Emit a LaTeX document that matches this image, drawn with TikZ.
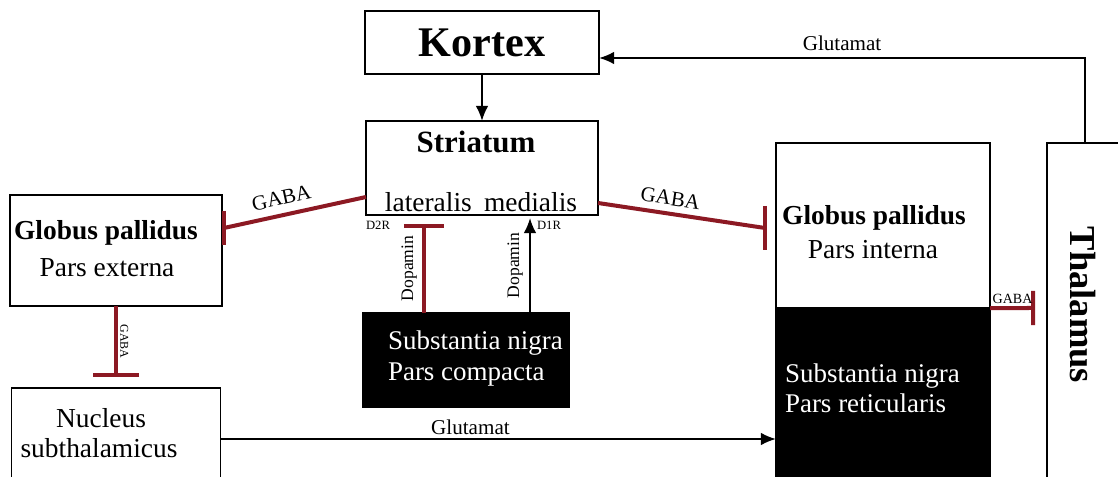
\documentclass[tikz,border=0pt]{standalone}
\usepackage{fontspec}
\setmainfont{Liberation Serif}
\usetikzlibrary{arrows.meta}

\begin{document}
\begin{tikzpicture}[x=0.025cm,y=-0.025cm]

	%DEFINITIONEN
	\tikzstyle{every node}=[inner sep=0pt, outer sep=0pt]
	\tikzstyle{kasten} = [draw, line width=0.35mm, fill=white]
	\tikzstyle{schwarz} = [draw, line width=0.35mm, fill=black]
	\tikzstyle{normal} = [font=\fontsize{19.5}{23}\selectfont, anchor=base]
	\tikzstyle{fett} = [font=\bfseries\fontsize{19.5}{23}\selectfont, anchor=base]
	\tikzstyle{weiss} = [font=\fontsize{19.2}{23}\selectfont, text=white, anchor=base west]
	\tikzstyle{klein} = [font=\fontsize{15}{18}\selectfont]
	\tikzstyle{pfeil} = [-{Latex[length=3.8mm, width=3.2mm]}, line width=0.5mm]
	\tikzstyle{hemmung} = [line width=1mm, draw={rgb,255:red,140; green,25; blue,35}]

	\clip (0,0) rectangle (1118,477);

	%BLOECKE
	\draw(482,42.5) node[kasten, minimum width=5.85cm, minimum height=1.575cm, font=\bfseries\fontsize{30}{36}\selectfont](kor){Kortex};
	\draw(482,168) node[kasten, minimum width=5.8cm, minimum height=2.35cm](str){};
	\draw(116,250.5) node[kasten, minimum width=5.3cm, minimum height=2.775cm](gpe){};
	\draw(116,439) node[kasten, minimum width=5.225cm, minimum height=2.55cm](nuc){};
	\draw(466,360) node[schwarz, minimum width=5.15cm, minimum height=2.35cm](snc){};
	\draw(883,225.5) node[kasten, minimum width=5.35cm, minimum height=4.125cm](gpi){};
	\draw(883,399) node[schwarz, minimum width=5.35cm, minimum height=4.55cm](snr){};
	\draw(1088.5,316.5) node[kasten, minimum width=2.075cm, minimum height=8.675cm](thal){};

	%TEXTE
	\draw(476,142) node[font=\bfseries\fontsize{22}{26}\selectfont](strtit){Striatum};
	\draw(481,212) node[normal](strsub){lateralis\hspace{0.45em}medialis};
	\draw(106,240) node[fett](gpe1){Globus pallidus};
	\draw(107,277) node[normal](gpe2){Pars externa};
	\draw(101,428) node[normal](nuc1){Nucleus};
	\draw(99,458) node[normal](nuc2){subthalamicus};
	\draw(388,350) node[weiss](snc1){Substantia nigra};
	\draw(388,381) node[weiss](snc2){Pars compacta};
	\draw(874,225) node[fett](gpi1){Globus pallidus};
	\draw(873,259) node[normal](gpi2){Pars interna};
	\draw(785,383) node[weiss](snr1){Substantia nigra};
	\draw(785,413) node[weiss](snr2){Pars reticularis};
	\draw(1083,305) node[rotate=-90, font=\bfseries\fontsize{26}{30}\selectfont](thaltxt){Thalamus};
	\draw(378,225) node[font=\fontsize{9}{11}\selectfont](d2txt){D2R};
	\draw(549,225) node[font=\fontsize{9}{11}\selectfont](d1txt){D1R};

	%VERBINDUNGEN
	\coordinate (ecke) at (1085,58);
	\coordinate (gpebar) at (224,228);
	\coordinate (gpibar) at (765,228);
	\coordinate (stnbar) at (116,377);
	\coordinate (d2r) at (424,224);
	\coordinate (d1r) at (530,218);
	\coordinate (thalbar) at (1035,308);

	\draw [pfeil] (kor.south) -- (str.north);
	\draw [pfeil] (thal.north -| ecke) -- (ecke) -- (ecke -| kor.east) node[midway, above=5pt, klein]{Glutamat};
	\draw [pfeil] (nuc.east) -- (nuc.east -| snr.west) node[pos=0.45, above=3pt, klein]{Glutamat};

	\draw [hemmung] (gpebar) -- ([yshift=0.45cm]str.south west) node[pos=0.43, above=7pt, sloped, klein]{GABA};
	\draw [hemmung] (gpebar) ++(0,-17) -- ++(0,34);
	\draw [hemmung] ([yshift=0.3cm]str.south east) -- (gpibar) node[pos=0.42, above=6pt, sloped, klein]{GABA};
	\draw [hemmung] (gpibar) ++(0,-22) -- ++(0,44);
	\draw [hemmung, -{Bar[width=11.5mm]}] (gpe.south) -- (stnbar) node[midway, anchor=south, rotate=-90, inner sep=3pt, font=\fontsize{8.5}{10}\selectfont]{GABA};
	\draw [hemmung, -{Bar[width=10mm]}] (snc.north -| d2r) -- (d2r) node[midway, anchor=south, rotate=90, inner sep=5pt, font=\fontsize{12.5}{15}\selectfont]{Dopamin};
	\draw [pfeil] (snc.north -| d1r) -- (d1r) node[midway, anchor=south, rotate=90, inner sep=5pt, font=\fontsize{12.5}{15}\selectfont]{Dopamin};
	\draw [hemmung, -{Bar[width=8.5mm]}] (gpi.south east) -- (thalbar) node[midway, above=3pt, font=\fontsize{10}{12}\selectfont]{GABA};
\end{tikzpicture}
\end{document}
